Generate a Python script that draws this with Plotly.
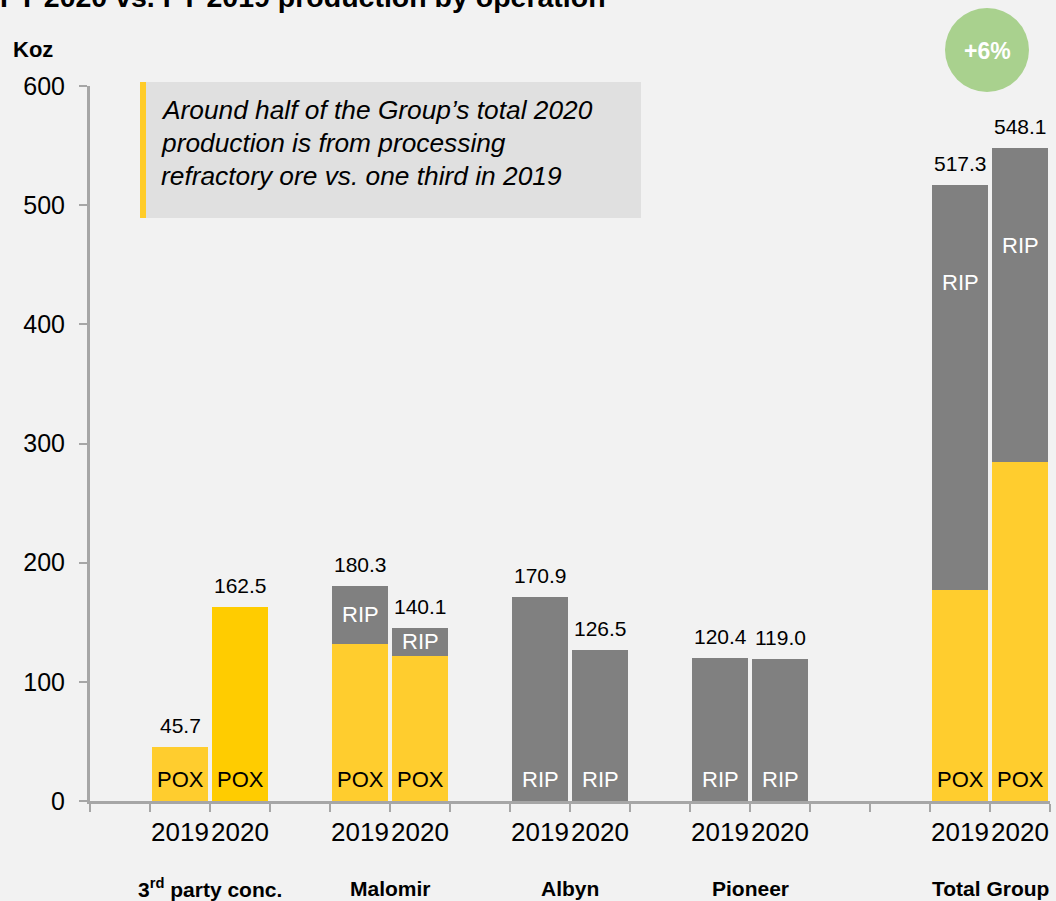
import plotly.graph_objects as go

# ---------------- data ----------------
groups = ["3<sup>rd</sup> party conc.", "Malomir", "Albyn", "Pioneer", "Total Group"]
years = ["2019", "2020"]
pox_2019 = [45.7, 132.0, 0, 0, 177.0]
pox_2020 = [162.5, 122.0, 0, 0, 284.4]
rip_2019 = [0, 48.3, 170.9, 120.4, 340.3]
rip_2020 = [0, 23.5, 126.5, 119.0, 263.7]
total_2019 = ["45.7", "180.3", "170.9", "120.4", "517.3"]
total_2020 = ["162.5", "140.1", "126.5", "119.0", "548.1"]
gaps_before = [1, 1, 1, 1, 2]
rip_label_mode = ["", "middle", "base", "base", "top"]
growth_label = "+6%"
note_lines = [
    "Around half of the Group\u2019s total 2020",
    "production is from processing",
    "refractory ore vs. one third in 2019",
]
title_text = "FY 2020 vs. FY 2019 production by operation"
y_unit = "Koz"

# ---------------- styles ----------------
FONT = "Liberation Sans, Arial, sans-serif"
YELLOW = "#ffcd2e"
YELLOW_STRONG = "#ffcc00"
GREY = "#808080"
AXIS = "#a6a6a6"
BG = "#f2f2f2"

W, H = 1056, 901
ML, MR, MT, MB = 90, 6, 86, 100
PW, PH = W - ML - MR, H - MT - MB


def px_x(p):
    return (p - ML) / PW


def px_y(p):
    return (H - MB - p) / PH


# categories (with empty slots)
cats, ticktext = [], []
keys = []  # per group: (key2019, key2020)
g = 0
for i, grp in enumerate(groups):
    for _ in range(gaps_before[i]):
        cats.append(f"gap{g}")
        ticktext.append("")
        g += 1
    k = []
    for yr in years:
        key = f"{i}|{yr}"
        cats.append(key)
        ticktext.append(yr)
        k.append(key)
    keys.append(k)

x_vals, pox_vals, rip_vals, pox_colors = [], [], [], []
for i in range(len(groups)):
    for j, (pv, rv) in enumerate(((pox_2019[i], rip_2019[i]), (pox_2020[i], rip_2020[i]))):
        x_vals.append(keys[i][j])
        pox_vals.append(pv)
        rip_vals.append(rv)
        pox_colors.append(YELLOW_STRONG if (i == 0 and j == 1) else YELLOW)

fig = go.Figure()
fig.add_trace(go.Bar(x=x_vals, y=pox_vals, name="POX", marker=dict(color=pox_colors, line_width=0),
                     hoverinfo="x+y"))
fig.add_trace(go.Bar(x=x_vals, y=rip_vals, name="RIP", marker=dict(color=GREY, line_width=0),
                     hoverinfo="x+y"))

ann = []
lab_font = dict(family=FONT, size=21, color="black")
inbar_size = 22
for i in range(len(groups)):
    pair = ((pox_2019[i], rip_2019[i], total_2019[i]), (pox_2020[i], rip_2020[i], total_2020[i]))
    for j, (pv, rv, tl) in enumerate(pair):
        key = keys[i][j]
        top = pv + rv
        ann.append(dict(x=key, y=top, xref="x", yref="y", text=tl, showarrow=False,
                        yanchor="bottom", yshift=8, font=lab_font))
        if pv > 0:
            ann.append(dict(x=key, y=0, xref="x", yref="y", text="POX", showarrow=False,
                            yanchor="bottom", yshift=7,
                            font=dict(family=FONT, size=inbar_size, color="black")))
        if rv > 0:
            mode = rip_label_mode[i]
            if mode == "base":
                d = dict(y=0, yanchor="bottom", yshift=7)
            elif mode == "middle":
                d = dict(y=pv + rv / 2, yanchor="middle", yshift=0)
            else:
                d = dict(y=top, yanchor="middle", yshift=-98)
            ann.append(dict(x=key, xref="x", yref="y", text="RIP", showarrow=False,
                            font=dict(family=FONT, size=inbar_size, color="white"), **d))
    # group label
    idx = cats.index(keys[i][0]) + 0.5
    ann.append(dict(x=idx, y=px_y(888), xref="x", yref="paper", text=f"<b>{groups[i]}</b>",
                    showarrow=False, yanchor="middle",
                    font=dict(family=FONT, size=21, color="black")))

# title (cut off at top like the reference)
ann.append(dict(x=px_x(-2), y=px_y(-3), xref="paper", yref="paper", text=f"<b>{title_text}</b>",
                showarrow=False, xanchor="left", yanchor="middle",
                font=dict(family=FONT, size=28.5, color="black")))
# unit label
ann.append(dict(x=px_x(11), y=px_y(49), xref="paper", yref="paper", text=f"<b>{y_unit}</b>",
                showarrow=False, xanchor="left", yanchor="middle",
                font=dict(family=FONT, size=22, color="black")))
# note text
for ln, yy in zip(note_lines, (110, 143, 176)):
    ann.append(dict(x=px_x(159), y=px_y(yy), xref="paper", yref="paper", text=f"<i>{ln}</i>",
                    showarrow=False, xanchor="left", yanchor="middle",
                    font=dict(family=FONT, size=26.3, color="black")))
# growth bubble text
ann.append(dict(x=px_x(987), y=px_y(51), xref="paper", yref="paper", text=f"<b>{growth_label}</b>",
                showarrow=False, xanchor="center", yanchor="middle",
                font=dict(family=FONT, size=23, color="white")))

shapes = [
    dict(type="rect", xref="paper", yref="paper", x0=px_x(140), x1=px_x(641),
         y0=px_y(218), y1=px_y(82), fillcolor="#e0e0e0", line_width=0, layer="below"),
    dict(type="rect", xref="paper", yref="paper", x0=px_x(140), x1=px_x(146),
         y0=px_y(218), y1=px_y(82), fillcolor="#ffcc29", line_width=0, layer="below"),
    dict(type="circle", xref="paper", yref="paper", x0=px_x(945), x1=px_x(1029),
         y0=px_y(92), y1=px_y(8), fillcolor="#a9d18e", line_width=0, layer="below"),
]

fig.update_layout(
    width=W, height=H,
    margin=dict(l=ML, r=MR, t=MT, b=MB, pad=0),
    paper_bgcolor=BG, plot_bgcolor=BG,
    barmode="stack", bargap=4 / 60,
    showlegend=False,
    font=dict(family=FONT, color="black"),
    annotations=ann, shapes=shapes,
    xaxis=dict(type="category", categoryorder="array", categoryarray=cats,
               tickmode="array", tickvals=cats, ticktext=ticktext, tickangle=0,
               range=[-0.5, len(cats) - 0.5], tickson="boundaries",
               ticks="outside", ticklen=8, tickwidth=2, tickcolor=AXIS,
               showline=True, linewidth=3, linecolor=AXIS, showgrid=False, zeroline=False,
               tickfont=dict(family=FONT, size=26, color="black"), ticklabelstandoff=6),
    yaxis=dict(range=[0, 600], dtick=100, tick0=0, ticks="outside", ticklen=8, tickwidth=2,
               tickcolor=AXIS, showline=True, linewidth=3, linecolor=AXIS,
               showgrid=False, zeroline=False,
               tickfont=dict(family=FONT, size=25, color="black"), ticklabelstandoff=9),
)

fig.write_html("out.html", config={"displayModeBar": False},
               post_script="document.body.style.margin='0';document.body.style.overflow='hidden';")
